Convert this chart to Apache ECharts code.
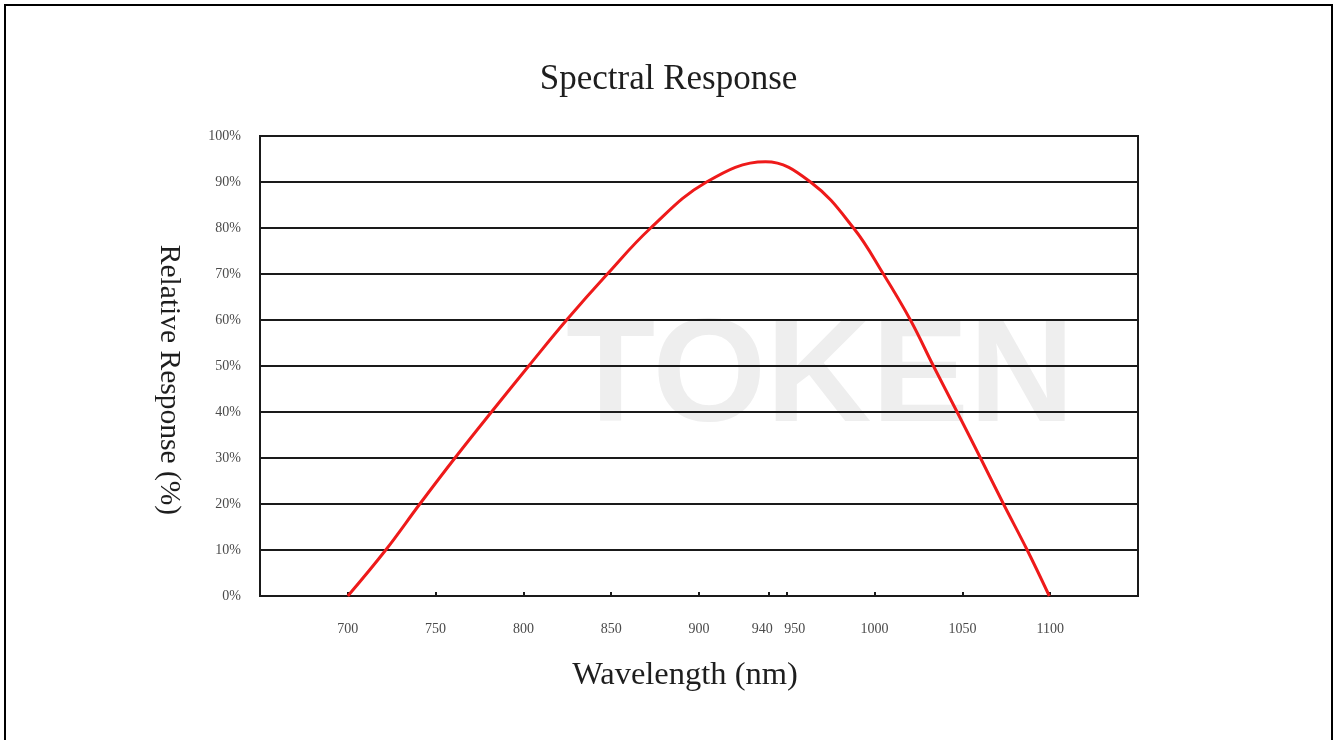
<!DOCTYPE html>
<html>
<head>
<meta charset="utf-8">
<script src="https://cdn.jsdelivr.net/npm/echarts@6/dist/echarts.min.js"></script>
<style>
html,body{margin:0;padding:0;background:#fff;}
#chart{width:1337px;height:740px;}
</style>
</head>
<body>
<div id="chart"></div>
<script>
// Wavelength (nm) and relative response (%)
const wavelengths = [700, 721.6, 741, 761, 781.8, 803, 824.6, 847.8, 872.5, 904.3, 937.9, 963.5, 988, 1005, 1020.4, 1033.5, 1047, 1060.3, 1073.4, 1086.9, 1099.5];
const response    = [0,   10,    20,  30,  40,    50,  60,    70,    80,    90,    94.4,  90,   80,  70,   60,     50,     40,   30,     20,     10,     0];
const xTickValues = [700, 750, 800, 850, 900, 940, 950, 1000, 1050, 1100];
const titleText = 'Spectral Response';
const xName = 'Wavelength (nm)';
const yName = 'Relative Response (%)';

const chart = echarts.init(document.getElementById('chart'), null, {renderer: 'canvas'});
const serif = '"Liberation Serif", "DejaVu Serif", serif';

chart.setOption({
  backgroundColor: '#fff',
  animation: false,
  title: {
    text: titleText,
    left: 'center',
    top: 57,
    textStyle: {fontFamily: serif, fontSize: 35, fontWeight: 'normal', color: '#1e1e1e'}
  },
  graphic: [
    {type: 'rect', z: 100, silent: true,
     shape: {x: 5, y: 5, width: 1327, height: 800},
     style: {fill: 'none', stroke: '#000', lineWidth: 2}},
    {type: 'text', z: -10, silent: true, left: 566, top: 308,
     style: {text: 'TOKEN', fill: '#eeeeee', font: 'bold 146px "Liberation Sans", sans-serif', letterSpacing: 14}}
  ],
  grid: {left: 260, right: 199, top: 136, bottom: 144, show: true, borderColor: '#1a1a1a', borderWidth: 2, backgroundColor: 'transparent'},
  xAxis: {
    type: 'value', min: 650, max: 1150,
    name: xName, nameLocation: 'middle', nameGap: 63,
    nameTextStyle: {fontFamily: serif, fontSize: 32.5, color: '#1e1e1e', padding: [0, 28, 0, 0]},
    axisLine: {show: true, lineStyle: {color: '#1a1a1a', width: 2}},
    axisTick: {show: true, inside: true, length: 4, customValues: xTickValues, lineStyle: {color: '#1a1a1a', width: 2}},
    splitLine: {show: false},
    axisLabel: {
      customValues: xTickValues, margin: 26, fontFamily: serif, fontSize: 14, color: '#4a4a4a',
      formatter: function (v) {
        if (v === 940) return '{l|940}';
        if (v === 950) return '{r|950}';
        return String(v);
      },
      rich: {
        l: {fontFamily: serif, fontSize: 14, color: '#4a4a4a', padding: [0, 14, 0, 0]},
        r: {fontFamily: serif, fontSize: 14, color: '#4a4a4a', padding: [0, 0, 0, 16]}
      }
    }
  },
  yAxis: {
    type: 'value', min: 0, max: 100, interval: 10,
    name: yName, nameLocation: 'middle', nameGap: 76, nameRotate: -90,
    nameTextStyle: {fontFamily: serif, fontSize: 29.5, color: '#1e1e1e', padding: [0, 0, 0, 28]},
    axisLine: {show: true, lineStyle: {color: '#1a1a1a', width: 2}},
    axisTick: {show: false},
    axisLabel: {formatter: '{value}%', margin: 19, fontFamily: serif, fontSize: 14, color: '#4a4a4a'},
    splitLine: {show: true, lineStyle: {color: '#1a1a1a', width: 2}}
  },
  series: [{
    type: 'line',
    data: wavelengths.map((w, i) => [w, response[i]]),
    smooth: 0.4,
    symbol: 'none',
    z: 5,
    lineStyle: {color: '#ee1a1a', width: 3}
  }]
});
</script>
</body>
</html>
